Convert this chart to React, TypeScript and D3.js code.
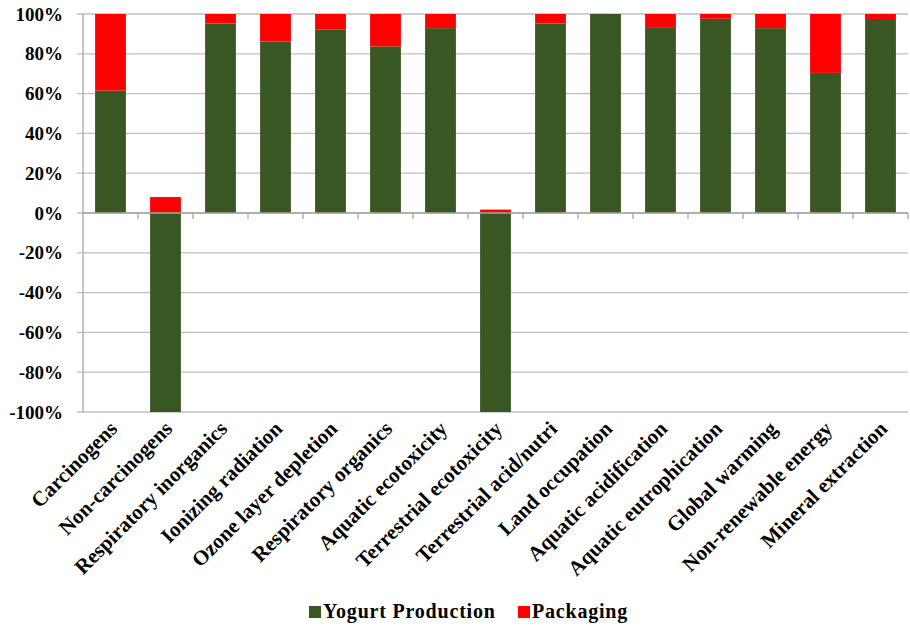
import React from "react";
import * as d3 from "d3";

const categories = [
  "Carcinogens",
  "Non-carcinogens",
  "Respiratory inorganics",
  "Ionizing radiation",
  "Ozone layer depletion",
  "Respiratory organics",
  "Aquatic ecotoxicity",
  "Terrestrial ecotoxicity",
  "Terrestrial acid/nutri",
  "Land occupation",
  "Aquatic acidification",
  "Aquatic eutrophication",
  "Global warming",
  "Non-renewable energy",
  "Mineral extraction",
];
const yogurtProduction = [61.5, -100, 95.2, 86.2, 92.3, 83.7, 92.9, -100, 95.2, 100, 93.4, 97.6, 92.9, 70.4, 97.5];
const packaging = [38.5, 8, 4.8, 13.8, 7.7, 16.3, 7.1, 1.7, 4.8, 0, 6.6, 2.4, 7.1, 29.6, 2.5];
const seriesNames = ["Yogurt Production", "Packaging"];
const seriesColors = ["#385723", "#FF0000"];
const yTicks = [100, 80, 60, 40, 20, 0, -20, -40, -60, -80, -100];

const W = 910;
const H = 627;
const left = 83;
const right = 908;
const top = 14;
const bottom = 412;
const FONT = "Liberation Serif";

export default function App() {
  const x = d3.scaleBand<string>().domain(categories).range([left, right]).paddingInner(0.44).paddingOuter(0.22);
  const band = d3.scaleBand<string>().domain(categories).range([left, right]);
  const y = d3.scaleLinear().domain([-100, 100]).range([bottom, top]);

  const rows = categories.map((c, i) => ({ cat: c, yogurt: yogurtProduction[i], pack: packaging[i] }));
  const stacked = d3
    .stack<any>()
    .keys(["yogurt", "pack"])
    .offset(d3.stackOffsetDiverging)(rows);

  return (
    <div style={{ position: "absolute", left: 0, top: 0 }}>
      <svg width={W} height={H} style={{ display: "block", background: "#fff", fontFamily: FONT }}>
        {yTicks.map((t) => (
          <line key={"g" + t} x1={left - 6} x2={right} y1={y(t)} y2={y(t)} stroke="#BFBFBF" strokeWidth={1.3} />
        ))}
        <line x1={left} x2={left} y1={top} y2={bottom} stroke="#A6A6A6" strokeWidth={1.3} />
        {categories.map((c) => (
          <line key={"t" + c} x1={(band(c) as number) + band.bandwidth()} x2={(band(c) as number) + band.bandwidth()} y1={y(0)} y2={y(0) + 6} stroke="#A6A6A6" strokeWidth={1.3} />
        ))}
        {stacked.map((s, si) => (
          <g key={s.key} fill={seriesColors[si]}>
            {s.map((d, i) => {
              const h = Math.abs(y(d[0]) - y(d[1]));
              if (h <= 0) return null;
              return (
                <rect key={i} x={x(categories[i])} width={x.bandwidth()} y={Math.min(y(d[0]), y(d[1]))} height={h} />
              );
            })}
          </g>
        ))}
        <line x1={left} x2={right} y1={y(0)} y2={y(0)} stroke="#A6A6A6" strokeWidth={1.3} />
        {yTicks.map((t) => (
          <text key={"l" + t} x={63} y={y(t)} dy="0.35em" textAnchor="end" fontWeight="bold" fontSize={19}>
            {t + "%"}
          </text>
        ))}
        {categories.map((c) => {
          const cx = (band(c) as number) + band.bandwidth() / 2 + 8;
          const cy = bottom + 18;
          return (
            <text key={"c" + c} transform={`translate(${cx},${cy}) rotate(-45)`} textAnchor="end" fontWeight="bold" fontSize={21}>
              {c}
            </text>
          );
        })}
        <g fontWeight="bold" fontSize={20} letterSpacing={0.8}>
          <rect x={309} y={606} width={12} height={12} fill={seriesColors[0]} />
          <text x={323} y={618}>{seriesNames[0]}</text>
          <rect x={518} y={606} width={12} height={12} fill={seriesColors[1]} />
          <text x={532} y={618}>{seriesNames[1]}</text>
        </g>
      </svg>
    </div>
  );
}
